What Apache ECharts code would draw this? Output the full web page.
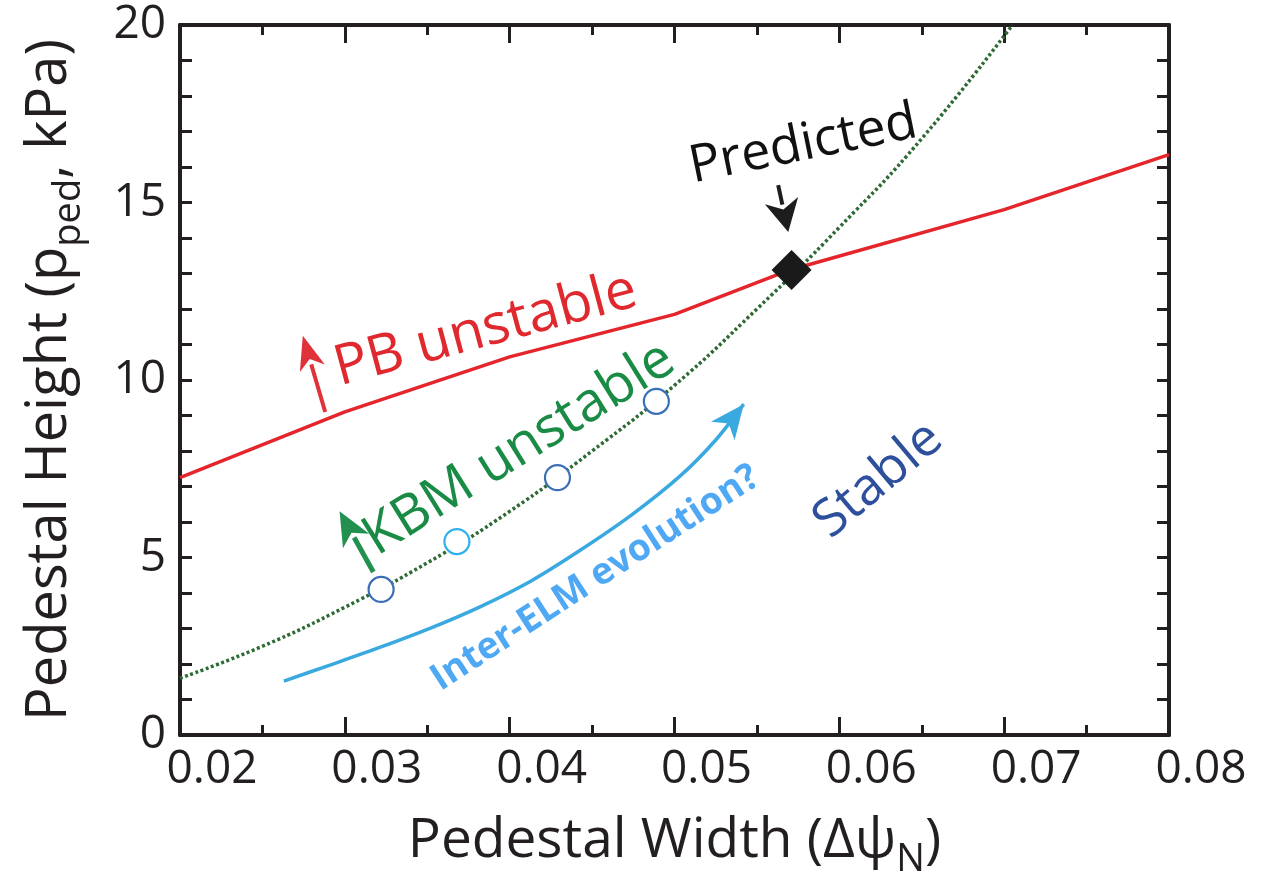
<!DOCTYPE html>
<html>
<head>
<meta charset="utf-8">
<script src="https://cdn.jsdelivr.net/npm/echarts@6/dist/echarts.min.js"></script>
<style>
  html, body { margin: 0; padding: 0; background: #fff; }
  #chart { width: 1269px; height: 882px; }
</style>
</head>
<body>
<div id="chart"></div>
<script>
// peeling-ballooning boundary
var pbWidth  = [0.02, 0.03, 0.04, 0.05, 0.057, 0.07, 0.08];
var pbHeight = [7.25, 9.1, 10.65, 11.85, 13.1, 14.8, 16.35];

// KBM constraint (dotted)
var kbmWidth  = [0.02, 0.025, 0.03, 0.035, 0.04, 0.045, 0.05, 0.055, 0.06, 0.065, 0.0705];
var kbmHeight = [1.6, 2.5, 3.6, 4.85, 6.3, 8.0, 9.85, 12.0, 14.3, 16.8, 20.0];

// measured points along the KBM line
var obsWidth  = [0.0322, 0.0368, 0.0429, 0.0489];
var obsHeight = [4.1, 5.45, 7.25, 9.4];

// predicted operating point
var predWidth  = [0.0571];
var predHeight = [13.1];

// inter-ELM evolution arrow
var elmWidth  = [0.0263, 0.0291, 0.0322, 0.0352, 0.0382, 0.0413, 0.0443, 0.0474, 0.0504, 0.0525, 0.0542];
var elmHeight = [1.52, 1.97, 2.48, 3.01, 3.61, 4.34, 5.21, 6.2, 7.32, 8.31, 9.32];

var FONT = 'Open Sans';
var INK = '#231f20';
var obsEdge = ['#3a6fb8', '#2fb0ea', '#3a6fb8', '#3a6fb8'];

function pairs(xs, ys) {
    return xs.map(function (x, i) { return [x, ys[i]]; });
}

function xAxisOf(pos, withLabels) {
    return {
        type: 'value', position: pos, min: 0.02, max: 0.08, interval: 0.01,
        axisLine: { show: true, onZero: false, lineStyle: { color: INK, width: 4 } },
        axisTick: { show: true, inside: true, length: 18, lineStyle: { color: INK, width: 3 } },
        minorTick: { show: true, splitNumber: 2, length: 10, lineStyle: { color: INK, width: 3 } },
        axisLabel: {
            show: withLabels, fontSize: 46, color: INK, fontFamily: FONT, margin: 12,
            padding: [0, 0, 0, 64],
            formatter: function (v) { return v.toFixed(2); }
        },
        splitLine: { show: false },
        name: withLabels ? '{m|Pedestal Width (Δψ}{s|N}{m|)}' : '',
        nameLocation: 'middle', nameGap: 68,
        nameTextStyle: {
            rich: {
                m: { fontSize: 55, color: INK, fontFamily: FONT },
                s: { fontSize: 38, color: INK, fontFamily: FONT, padding: [38, 0, 0, 0] }
            }
        }
    };
}

function yAxisOf(pos, withLabels) {
    return {
        type: 'value', position: pos, min: 0, max: 20, interval: 5,
        axisLine: { show: true, onZero: false, lineStyle: { color: INK, width: 4 } },
        axisTick: { show: true, inside: true, length: 12, lineStyle: { color: INK, width: 3 } },
        minorTick: { show: true, splitNumber: 5, length: 12, lineStyle: { color: INK, width: 3 } },
        axisLabel: { show: withLabels, fontSize: 46, color: INK, fontFamily: FONT, margin: 14 },
        splitLine: { show: false },
        name: withLabels ? '{m|Pedestal Height (p}{s|ped}{m|, kPa)}' : '',
        nameLocation: 'middle', nameGap: 92,
        nameTextStyle: {
            rich: {
                m: { fontSize: 56, color: INK, fontFamily: FONT },
                s: { fontSize: 38, color: INK, fontFamily: FONT, padding: [38, 0, 0, 0] }
            }
        }
    };
}

var chart = echarts.init(document.getElementById('chart'));
var option = {
    animation: false,
    backgroundColor: '#fff',
    grid: { left: 180, right: 100, top: 25, bottom: 147, containLabel: false, outerBoundsMode: 'none' },
    xAxis: [xAxisOf('bottom', true), xAxisOf('top', false)],
    yAxis: [yAxisOf('left', true), yAxisOf('right', false)],
    series: [
        {
            type: 'line', data: pairs(pbWidth, pbHeight), symbol: 'none',
            lineStyle: { color: '#e4262c', width: 3.5 }, z: 2
        },
        {
            type: 'line', data: pairs(kbmWidth, kbmHeight), symbol: 'none', smooth: true,
            lineStyle: { color: '#2e6b34', width: 3.5, type: [3, 2.5] }, z: 3
        },
        {
            type: 'line', data: pairs(elmWidth, elmHeight), symbol: 'none', smooth: 0.3,
            lineStyle: { color: '#3aa9e0', width: 3.5 }, z: 3
        },
        {
            type: 'scatter', symbol: 'circle', symbolSize: 25, z: 5,
            data: pairs(obsWidth, obsHeight).map(function (p, i) {
                return { value: p, itemStyle: { color: '#fff', borderColor: obsEdge[i], borderWidth: 2.2, opacity: 1 } };
            })
        },
        {
            type: 'scatter', symbol: 'diamond', symbolSize: [40, 40], z: 6,
            data: pairs(predWidth, predHeight),
            itemStyle: { color: '#1a1a1a', opacity: 1 }
        }
    ]
};
chart.setOption(option);

// annotations, anchored in data space
var notes = [
    { text: 'PB unstable', at: [0.03854, 11.41], angle: 15, color: '#e0292f', size: 56 },
    { text: 'KBM unstable', at: [0.04058, 8.06], angle: 32, color: '#1a8b45', size: 55 },
    { text: 'Predicted', at: [0.05781, 16.62], angle: 11.5, color: '#111', size: 52 },
    { text: 'Inter-ELM evolution?', at: [0.0452, 4.42], angle: 33, color: '#4ea8f4', size: 37, bold: true },
    { text: 'Stable', at: [0.06237, 7.18], angle: 40, color: '#2d4f9c', size: 52 }
];
var arrows = [
    { from: [0.02881, 9.10], to: [0.02745, 11.25], color: '#e0323a', lw: 4, hl: 34, hw: 26 },
    { from: [0.03173, 4.59], to: [0.02968, 6.3], color: '#22904f', lw: 5, hl: 34, hw: 30 },
    { from: [0.05629, 15.49], to: [0.0569, 14.17], color: '#1d1d1d', lw: 4, hl: 32, hw: 34 },
    { from: [elmWidth[9], elmHeight[9]], to: [elmWidth[10], elmHeight[10]], color: '#3aa9e0', lw: 0, hl: 34, hw: 30 }
];

function px(p) { return chart.convertToPixel({ gridIndex: 0 }, p); }

function arrowShapes(a) {
    var p = px(a.from), q = px(a.to);
    var dx = q[0] - p[0], dy = q[1] - p[1];
    var len = Math.sqrt(dx * dx + dy * dy);
    var ux = dx / len, uy = dy / len, nx = -uy, ny = ux;
    var bx = q[0] - ux * a.hl, by = q[1] - uy * a.hl;
    var out = [];
    if (a.lw > 0) {
        out.push({
            type: 'line', z: 50,
            shape: { x1: p[0], y1: p[1], x2: bx + ux * 4, y2: by + uy * 4 },
            style: { stroke: a.color, lineWidth: a.lw }
        });
    }
    out.push({
        type: 'polygon', z: 50,
        shape: { points: [
            [q[0], q[1]],
            [bx + nx * a.hw / 2, by + ny * a.hw / 2],
            [q[0] - ux * a.hl * 0.72, q[1] - uy * a.hl * 0.72],
            [bx - nx * a.hw / 2, by - ny * a.hw / 2]
        ] },
        style: { fill: a.color }
    });
    return out;
}

var elements = [];
notes.forEach(function (n) {
    var p = px(n.at);
    elements.push({
        type: 'text', x: p[0], y: p[1], rotation: n.angle * Math.PI / 180, z: 60,
        style: {
            text: n.text, fill: n.color, fontSize: n.size, fontFamily: FONT,
            fontWeight: n.bold ? 'bold' : 'normal',
            align: 'center', verticalAlign: 'middle', textAlign: 'center', textVerticalAlign: 'middle'
        }
    });
});
arrows.forEach(function (a) { elements = elements.concat(arrowShapes(a)); });
chart.setOption({ graphic: { elements: elements } });
</script>
</body>
</html>
